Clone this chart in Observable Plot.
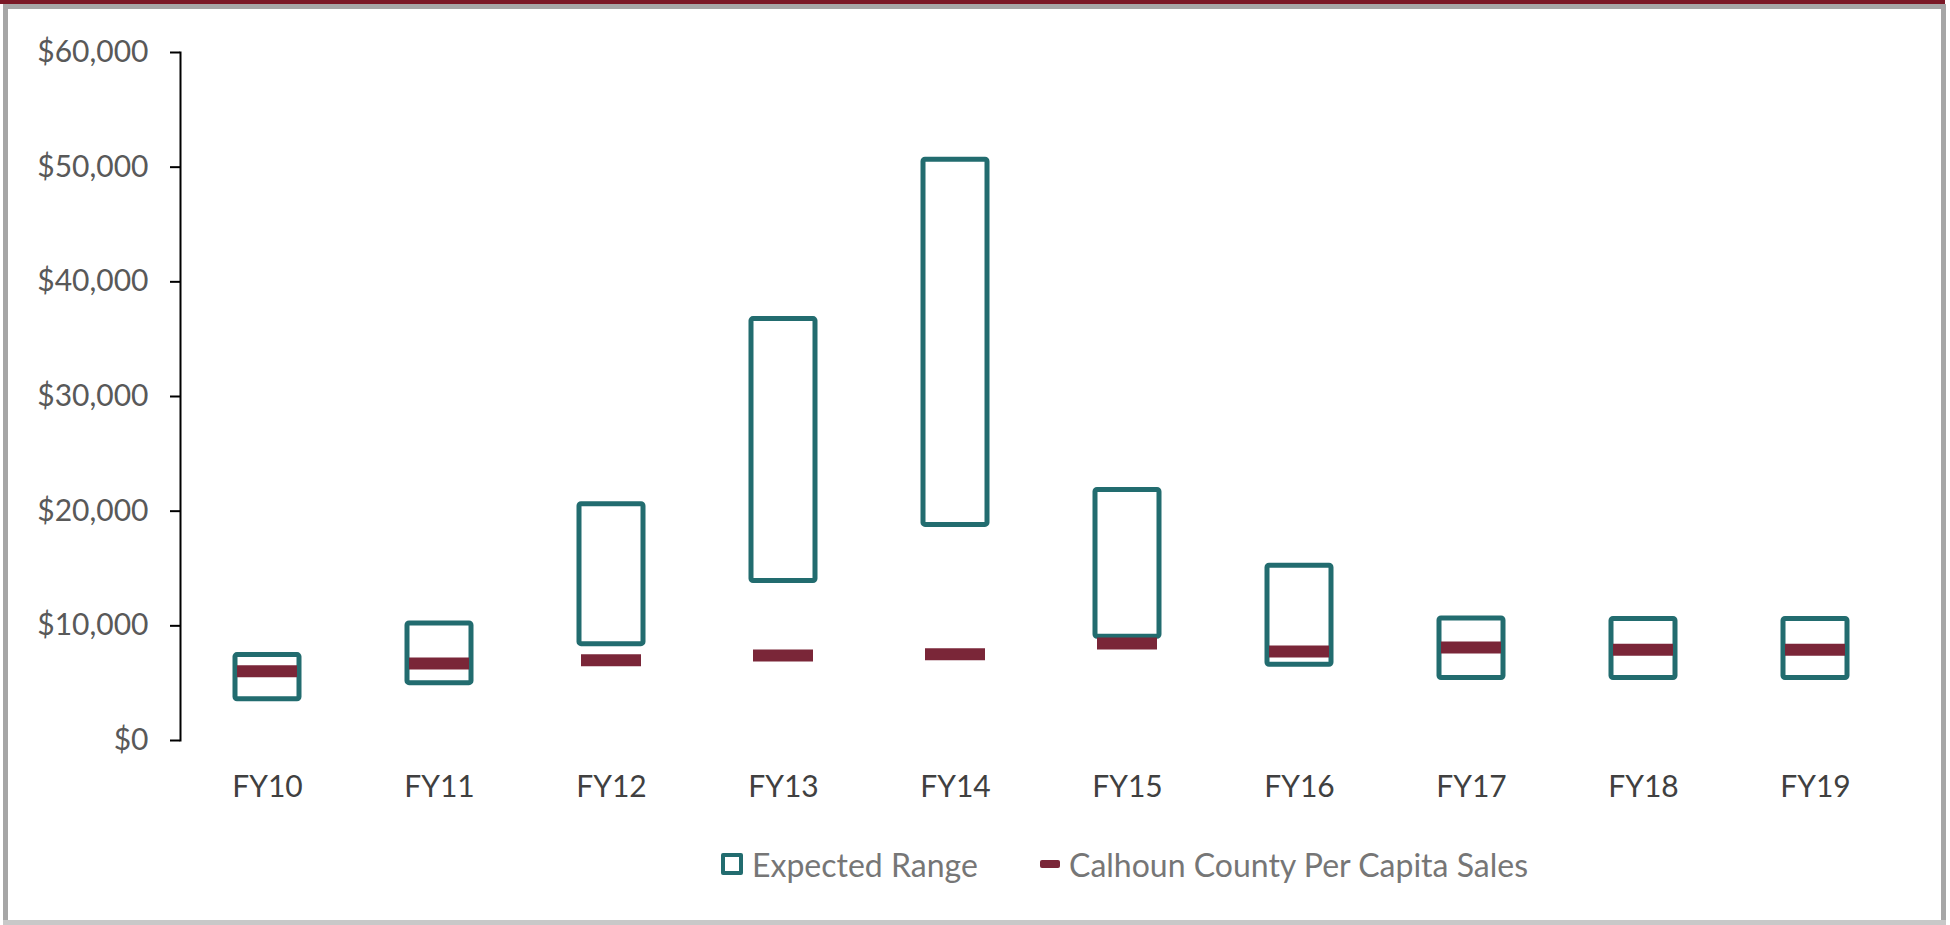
<!DOCTYPE html>
<html>
<head>
<meta charset="utf-8">
<script src="https://cdn.jsdelivr.net/npm/d3@7"></script>
<script src="https://cdn.jsdelivr.net/npm/@observablehq/plot@0.6"></script>
<style>
html, body { margin: 0; padding: 0; background: #fff; }
#wrap { position: relative; width: 1950px; height: 925px; overflow: hidden; font-family: Lato, sans-serif; background: #fff; }
.bd { position: absolute; }
#chart { position: absolute; left: 0; top: 0; }
.lg { position: absolute; top: 844px; height: 40px; display: flex; align-items: center; font-size: 32px; color: #767676; white-space: nowrap; }
.sw-range { width: 14px; height: 14px; border: 4px solid #226c6f; border-radius: 2px; margin-right: 9px; }
.sw-line { width: 20px; height: 8px; background: #7a2638; border-radius: 2px; margin-right: 9px; }
</style>
</head>
<body>
<div id="wrap">
  <div id="chart"></div>
  <div class="lg" style="left:721px;"><span class="sw-range"></span><span>Expected Range</span></div>
  <div class="lg" style="left:1040px;"><span class="sw-line"></span><span>Calhoun County Per Capita Sales</span></div>
  <div class="bd" style="left:0;top:0;width:1945px;height:4px;background:#7a1826;"></div>
  <div class="bd" style="left:3px;top:4px;width:1942px;height:5px;background:#a6a6a6;"></div>
  <div class="bd" style="left:3px;top:4px;width:5px;height:921px;background:#a6a6a6;"></div>
  <div class="bd" style="left:1941px;top:4px;width:5px;height:921px;background:#a6a6a6;"></div>
  <div class="bd" style="left:3px;top:920px;width:1943px;height:5px;background:#c8c8c8;"></div>
</div>
<script>
const years = ["FY10", "FY11", "FY12", "FY13", "FY14", "FY15", "FY16", "FY17", "FY18", "FY19"];
const rangeLow = [3600, 5000, 8400, 13900, 18800, 9050, 6600, 5450, 5450, 5450];
const rangeHigh = [7450, 10200, 20600, 36750, 50650, 21850, 15250, 10650, 10600, 10600];
const perCapita = [6050, 6720, 6990, 7420, 7530, 8450, 7770, 8100, 7920, 7920];
const yTicks = [0, 10000, 20000, 30000, 40000, 50000, 60000];

const data = years.map((y, i) => ({ year: y, low: rangeLow[i], high: rangeHigh[i], value: perCapita[i] }));
const fmt = d3.format(",");

const chart = Plot.plot({
  width: 1950,
  height: 830,
  marginLeft: 180,
  marginRight: 48,
  marginTop: 52,
  marginBottom: 90,
  style: { fontFamily: "Lato, sans-serif", fontSize: "30px", background: "transparent", overflow: "visible" },
  x: { domain: years, padding: 0, label: null },
  y: { domain: [0, 60000], label: null },
  marks: [
    Plot.axisY({ ticks: yTicks, tickFormat: d => "$" + fmt(d), tickSize: 10, tickPadding: 22, stroke: "#000", strokeWidth: 2, fill: "#595959", fontSize: 30, label: null }),
    Plot.frame({ anchor: "left", stroke: "#000", strokeWidth: 2 }),
    Plot.axisX({ tickSize: 0, tickPadding: 35, fill: "#404040", fontSize: 30, label: null }),
    Plot.barY(data, { x: "year", y1: "low", y2: "high", fill: "none", stroke: "#226c6f", strokeWidth: 5, insetLeft: 54, insetRight: 54, rx: 2 }),
    Plot.tickY(data, { x: "year", y: "value", stroke: "#7a2638", strokeWidth: 12, insetLeft: 56, insetRight: 56 })
  ]
});
document.getElementById("chart").appendChild(chart);
</script>
</body>
</html>
